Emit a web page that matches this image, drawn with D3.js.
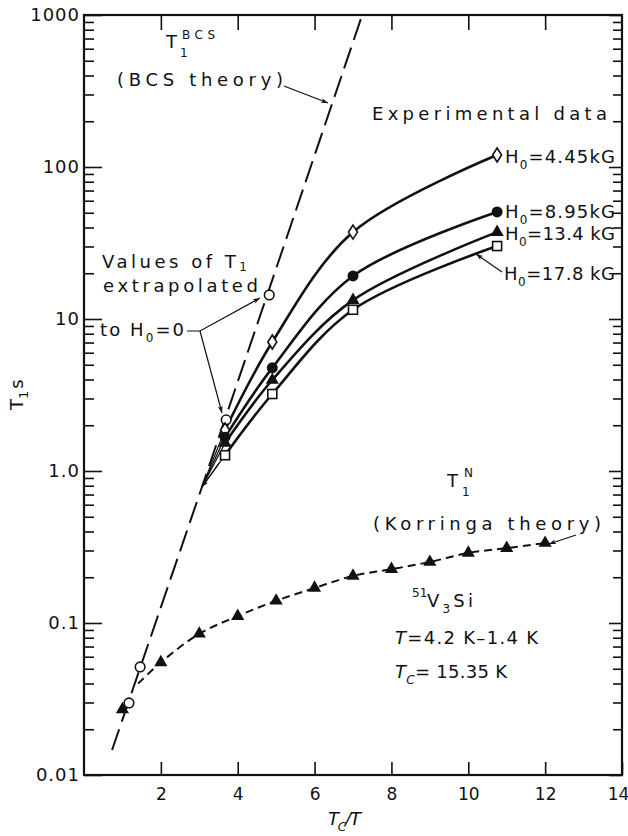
<!DOCTYPE html>
<html>
<head>
<meta charset="utf-8">
<script src="https://cdn.jsdelivr.net/npm/d3@7"></script>
<style>
  body { margin: 0; background: #fff; }
  svg { display: block; }
  text { font-family: "DejaVu Sans", sans-serif; fill: #111; }
</style>
</head>
<body>
<svg id="chart" width="628" height="836"></svg>
<script>
// T1 of 51V in V3Si vs Tc/T
/////////////////////////////////

// axis ticks
const xTicks = [2, 4, 6, 8, 10, 12, 14];
const yMajor = [0.01, 0.1, 1, 10, 100, 1000];
const yMajorLabels = ["0.01", "0.1", "1.0", "10", "100", "1000"];

// BCS theory (straight on a log scale)
const bcsX = [0.73, 3.07, 7.24];
const bcsT1 = [0.0146, 0.785, 1000];

// Korringa theory, normal state
const korringaX = [1, 2, 3, 4, 5, 6, 7, 8, 9, 10, 11, 12];
const korringaT1 = [0.027, 0.055, 0.085, 0.111, 0.14, 0.17, 0.204, 0.226, 0.252, 0.289, 0.311, 0.336];
const korringaStart = [1.41, 0.040]; // where the dashed curve leaves the BCS line

// values of T1 extrapolated to H0 = 0
const extrapX = [1.17, 1.46, 3.70, 4.82];
const extrapT1 = [0.0298, 0.0514, 2.17, 14.4];

// experimental data
const expX = [3.67, 4.9, 7.0, 10.75];
const t1H445 = [1.86, 7.06, 37.3, 120];
const t1H895 = [1.67, 4.77, 19.2, 50.6];
const t1H134 = [1.53, 3.97, 13.3, 37.3];
const t1H178 = [1.27, 3.21, 11.5, 30.2];
const extrapTip = [3.07, 0.785];

const svg = d3.select("#chart");
const x = d3.scaleLinear().domain([0, 14]).range([84, 622]);
const y = d3.scaleLog().domain([0.01, 1000]).range([775, 15]);

svg.append("defs").append("marker")
    .attr("id", "arrow")
    .attr("viewBox", "0 0 10 10")
    .attr("refX", 10).attr("refY", 5)
    .attr("markerUnits", "userSpaceOnUse")
    .attr("markerWidth", 11).attr("markerHeight", 7)
    .attr("orient", "auto")
  .append("path").attr("d", "M0,1.5 L10,5 L0,8.5 L2.5,5 z").attr("fill", "#111");

// ---- axes ----
const minor = y.ticks().filter(v => !yMajor.some(m => Math.abs(m - v) / m < 1e-6));

function styleAxis(g) {
    g.select(".domain").remove();
    g.selectAll(".tick line").attr("stroke", "#111").attr("stroke-width", 1.6);
    g.selectAll("text").style("font-size", "18px").style("letter-spacing", "1px").attr("fill", "#111");
}

svg.append("g").attr("transform", "translate(0,775)")
    .call(d3.axisBottom(x).tickValues(xTicks).tickSizeInner(-13).tickSizeOuter(0).tickPadding(13))
    .call(styleAxis)
    .call(g => g.selectAll("text").style("font-size", "17px").style("letter-spacing", "0px"))
    .call(g => g.selectAll("text").filter(d => d === 14).attr("dx", -4));
svg.append("g").attr("transform", "translate(0,15)")
    .call(d3.axisTop(x).tickValues(xTicks.slice(0, -1)).tickSizeInner(-15).tickSizeOuter(0).tickFormat(""))
    .call(styleAxis);
svg.append("g").attr("transform", "translate(84,0)")
    .call(d3.axisLeft(y).tickValues(yMajor).tickSizeInner(-18).tickSizeOuter(0).tickPadding(4)
        .tickFormat((d, i) => yMajorLabels[i]))
    .call(styleAxis);
svg.append("g").attr("transform", "translate(84,0)")
    .call(d3.axisLeft(y).tickValues(minor).tickSizeInner(-10).tickSizeOuter(0).tickFormat(""))
    .call(styleAxis);
svg.append("g").attr("transform", "translate(622,0)")
    .call(d3.axisRight(y).tickValues(yMajor).tickSizeInner(-13).tickSizeOuter(0).tickFormat(""))
    .call(styleAxis);
svg.append("g").attr("transform", "translate(622,0)")
    .call(d3.axisRight(y).tickValues(minor).tickSizeInner(-9).tickSizeOuter(0).tickFormat(""))
    .call(styleAxis);

svg.append("rect")
    .attr("x", x(0)).attr("y", y(1000))
    .attr("width", x(14) - x(0)).attr("height", y(0.01) - y(1000))
    .attr("fill", "none").attr("stroke", "#111").attr("stroke-width", 2.2);

// ---- lines ----
const line = d3.line().x(d => x(d[0])).y(d => y(d[1]));

svg.append("path")
    .datum(d3.zip(bcsX, bcsT1))
    .attr("d", line)
    .attr("fill", "none").attr("stroke", "#111").attr("stroke-width", 2)
    .attr("stroke-dasharray", "22,8");

svg.append("path")
    .datum([korringaStart].concat(d3.zip(korringaX, korringaT1).slice(1)))
    .attr("d", line.curve(d3.curveCatmullRom))
    .attr("fill", "none").attr("stroke", "#111").attr("stroke-width", 2)
    .attr("stroke-dasharray", "8,5");

const expSeries = [
    { name: "4.45", values: t1H445, shape: "diamond" },
    { name: "8.95", values: t1H895, shape: "circle" },
    { name: "13.4", values: t1H134, shape: "triangle" },
    { name: "17.8", values: t1H178, shape: "square" }
];

expSeries.forEach(s => {
    svg.append("path")
        .datum(d3.zip(expX, s.values))
        .attr("d", line.curve(d3.curveCatmullRom))
        .attr("fill", "none").attr("stroke", "#111").attr("stroke-width", 2.6);
    // thin extrapolation back to the BCS line
    svg.append("line")
        .attr("x1", x(expX[0])).attr("y1", y(s.values[0]))
        .attr("x2", x(extrapTip[0])).attr("y2", y(extrapTip[1]))
        .attr("stroke", "#111").attr("stroke-width", 1.2);
});
svg.append("line")
    .attr("x1", x(expX[0]) - 6).attr("y1", y(t1H178[0]) + 8)
    .attr("x2", x(extrapTip[0])).attr("y2", y(extrapTip[1]))
    .attr("stroke", "#111").attr("stroke-width", 1.2).attr("marker-end", "url(#arrow)");

// ---- markers ----
const diamondPath = "M0,-7 L4.5,0 L0,7 L-4.5,0 Z";
function drawMarkers(xs, ys, shape) {
    const g = svg.append("g");
    d3.zip(xs, ys).forEach(d => {
        const px = x(d[0]), py = y(d[1]);
        if (shape === "diamond") {
            g.append("path").attr("d", diamondPath).attr("transform", `translate(${px},${py})`)
                .attr("fill", "#fff").attr("stroke", "#111").attr("stroke-width", 1.6);
        } else if (shape === "circle") {
            g.append("circle").attr("cx", px).attr("cy", py).attr("r", 5.5).attr("fill", "#111");
        } else if (shape === "open") {
            g.append("circle").attr("cx", px).attr("cy", py).attr("r", 4.8)
                .attr("fill", "#fff").attr("stroke", "#111").attr("stroke-width", 1.6);
        } else if (shape === "triangle") {
            g.append("path").attr("d", d3.symbol(d3.symbolTriangle, 75)())
                .attr("transform", `translate(${px},${py})`).attr("fill", "#111");
        } else if (shape === "square") {
            g.append("rect").attr("x", px - 4.5).attr("y", py - 4.5).attr("width", 9).attr("height", 9)
                .attr("fill", "#fff").attr("stroke", "#111").attr("stroke-width", 1.6);
        }
    });
}
drawMarkers(korringaX, korringaT1, "triangle");
drawMarkers(extrapX, extrapT1, "open");
expSeries.forEach(s => drawMarkers(expX, s.values, s.shape));

// ---- text ----
function rich(px, py, parts, opts) {
    const size = opts.size || 18;
    const t = svg.append("text").attr("x", px).attr("y", py).style("font-size", size + "px");
    if (opts.len) t.attr("textLength", opts.len).attr("lengthAdjust", "spacing");
    let shift = 0;
    parts.forEach(p => {
        const [s, kind] = Array.isArray(p) ? p : [p, null];
        const target = kind === "sub" ? size * (opts.sub || 0.32) : kind === "sup" ? -size * 0.5 : 0;
        const ts = t.append("tspan").text(s).attr("dy", target - shift);
        if (kind) ts.style("font-size", Math.round(size * 0.68) + "px");
        if (opts.italic && opts.italic.includes(s)) ts.style("font-style", "italic");
        shift = target;
    });
    return t;
}

rich(166, 48, ["T"], {});
rich(180, 57, ["1"], { size: 12 });
rich(182, 39, ["BCS"], { size: 12, len: 33 });
rich(117, 86, ["(BCS theory)"], { len: 166 });
rich(372, 120, ["Experimental data"], { len: 235 });

rich(505, 163, ["H", ["0", "sub"], "=4.45kG"], { len: 110 });
rich(505, 218, ["H", ["0", "sub"], "=8.95kG"], { len: 110 });
rich(505, 240, ["H", ["0", "sub"], "=13.4 kG"], { len: 110 });
rich(504, 280, ["H", ["0", "sub"], "=17.8 kG"], { len: 111 });

rich(102, 268, ["Values of T", ["1", "sub"]], { len: 145, sub: 0.15 });
rich(103, 292, ["extrapolated"], { len: 155 });
rich(100, 336, ["to H", ["0", "sub"], "=0"], { len: 84 });

rich(447, 487, ["T"], {});
rich(462, 496, ["1"], { size: 12 });
rich(464, 477, ["N"], { size: 12 });
rich(373, 530, ["(Korringa theory)"], { len: 228 });

rich(412, 597, ["51"], { size: 12 });
rich(427, 607, ["V", ["3", "sub"], "Si"], { len: 46 });
rich(395, 644, ["T", "=4.2 K\u20131.4 K"], { len: 143, italic: ["T"] });
rich(395, 678, ["T", ["C", "sub"], "= 15.35 K"], { len: 112, italic: ["T", "C"] });

rich(328, 825, ["T", ["C", "sub"], "/", "T"], { size: 18, len: 33, italic: ["T", "C", "/"] });

svg.append("text")
    .attr("transform", "translate(23,410) rotate(-90)")
    .style("font-size", "18px")
    .call(t => {
        t.append("tspan").text("T");
        t.append("tspan").text("1").attr("dy", 5).style("font-size", "13px");
        t.append("tspan").text("s").attr("dy", -5).attr("dx", 2);
    });

// ---- leaders ----
function leader(pts, arrow) {
    const p = svg.append("path").attr("d", d3.line()(pts))
        .attr("fill", "none").attr("stroke", "#111").attr("stroke-width", 1.2);
    if (arrow) p.attr("marker-end", "url(#arrow)");
}
leader([[284, 86], [328, 103]], true);
leader([[187, 331], [200, 331], [260, 298]], true);
leader([[200, 331], [222, 413]], true);
leader([[502, 272], [476, 254]], true);
leader([[576, 535], [549, 544]], true);
</script>
</body>
</html>
